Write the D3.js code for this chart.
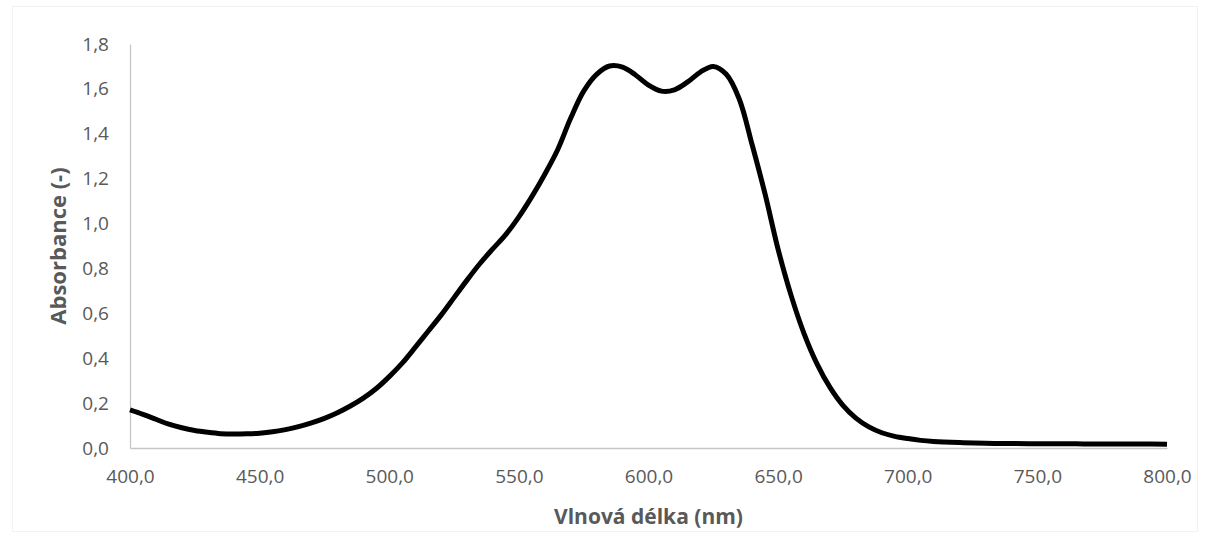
<!DOCTYPE html>
<html>
<head>
<meta charset="utf-8">
<script src="https://cdn.jsdelivr.net/npm/d3@7"></script>
<style>
  html, body { margin: 0; padding: 0; background: #fff; }
  svg { display: block; }
  .tick text { font-family: "Open Sans", "Noto Sans", sans-serif; font-size: 19px; fill: #595959; }
  .title { font-family: "Open Sans", "Noto Sans", sans-serif; font-weight: bold; fill: #595959; }
</style>
</head>
<body>
<svg id="chart" width="1210" height="535"></svg>
<script>
// Absorption spectrum: wavelength (nm) and absorbance (-)
const wavelengths = [
  400, 405, 410, 415, 420, 425, 430, 435, 440, 445,
  450, 455, 460, 465, 470, 475, 480, 485, 490, 495,
  500, 505, 510, 515, 520, 525, 530, 535, 540, 545,
  550, 555, 560, 565, 570, 575, 580, 585, 590, 595,
  600, 605, 610, 615, 620, 625, 630, 635, 640, 645,
  650, 655, 660, 665, 670, 675, 680, 685, 690, 695,
  700, 705, 710, 720, 730, 740, 750, 760, 770, 780,
  790, 800
];
const absorbance = [
  0.170, 0.150, 0.128, 0.106, 0.090, 0.078, 0.070, 0.064, 0.062, 0.063,
  0.066, 0.072, 0.082, 0.095, 0.112, 0.132, 0.157, 0.187, 0.222, 0.265,
  0.318, 0.378, 0.448, 0.520, 0.592, 0.670, 0.748, 0.822, 0.888, 0.952,
  1.030, 1.120, 1.220, 1.330, 1.470, 1.590, 1.665, 1.702, 1.697, 1.662,
  1.617, 1.590, 1.596, 1.630, 1.675, 1.700, 1.665, 1.555, 1.350, 1.130,
  0.885, 0.680, 0.510, 0.375, 0.270, 0.190, 0.133, 0.094, 0.068, 0.052,
  0.042, 0.034, 0.029, 0.024, 0.021, 0.020, 0.019, 0.019, 0.018, 0.018,
  0.018, 0.017
];
const xTicks = [400, 450, 500, 550, 600, 650, 700, 750, 800];
const yTicks = [0, 0.2, 0.4, 0.6, 0.8, 1.0, 1.2, 1.4, 1.6, 1.8];
const xTitle = "Vlnová délka (nm)";
const yTitle = "Absorbance (-)";

const svg = d3.select("#chart");
const margin = { left: 130, right: 43, top: 44, bottom: 87 };
const W = 1210, H = 535;

// chart-area frame
svg.append("rect")
  .attr("x", 12.5).attr("y", 6.5)
  .attr("width", W - 25).attr("height", H - 10)
  .attr("fill", "none").attr("stroke", "#f2f2f2").attr("stroke-width", 1);

const x = d3.scaleLinear().domain([400, 800]).range([margin.left, W - margin.right]);
const y = d3.scaleLinear().domain([0, 1.8]).range([H - margin.bottom, margin.top]);

const fmt = d => d3.format(".1f")(d).replace(".", ",");

// x axis
const gx = svg.append("g")
  .attr("transform", `translate(0,${y(0)})`)
  .call(d3.axisBottom(x).tickValues(xTicks).tickFormat(fmt).tickSize(0).tickPadding(22));
gx.select(".domain").attr("stroke", "#c6c6c6").attr("stroke-width", 1.3);

// y axis
const gy = svg.append("g")
  .attr("transform", `translate(${x(400)},0)`)
  .call(d3.axisLeft(y).tickValues(yTicks).tickFormat(fmt).tickSize(0).tickPadding(21));
gy.select(".domain").attr("stroke", "#c6c6c6").attr("stroke-width", 1.3);

// spectrum line
const pts = wavelengths.map((w, i) => [w, absorbance[i]]);
svg.append("path")
  .datum(pts)
  .attr("fill", "none")
  .attr("stroke", "#000")
  .attr("stroke-width", 5)
  .attr("stroke-linejoin", "round")
  .attr("stroke-linecap", "butt")
  .attr("d", d3.line().x(d => x(d[0])).y(d => y(d[1])).curve(d3.curveCatmullRom.alpha(0.5)));

// axis titles
svg.append("text").attr("class", "title")
  .style("font-size", "21px")
  .attr("x", (x(400) + x(800)) / 2).attr("y", 524)
  .attr("text-anchor", "middle").text(xTitle);

svg.append("text").attr("class", "title")
  .style("font-size", "22px")
  .attr("transform", `translate(66,${(y(0) + y(1.8)) / 2}) rotate(-90)`)
  .attr("text-anchor", "middle").text(yTitle);
</script>
</body>
</html>
